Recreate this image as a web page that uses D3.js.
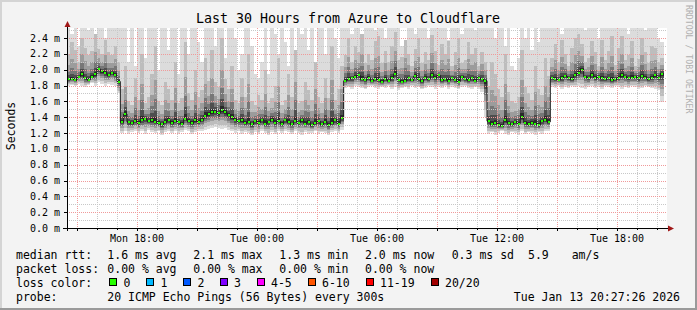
<!DOCTYPE html>
<html lang="en">
<head>
<meta charset="UTF-8">
<title>Last 30 Hours from Azure to Cloudflare</title>
<script src="https://cdn.jsdelivr.net/npm/d3@7"></script>
<style>
body{margin:0;background:#f3f3f3}
svg text{font-family:"DejaVu Sans Mono",monospace;fill:#000}
</style>
</head>
<body>
<div id="grafica"></div>
<script>
// smokeping values, ms, one value per 10 minutes from Mon 14:30
start='2026-01-12T14:30:00Z'
end='2026-01-13T20:30:00Z'
stepMin=10

median=[1.88,1.88,1.87,1.91,1.94,1.89,1.87,1.91,1.94,2.01,1.98,1.96,1.93,1.96,1.93,1.85,
1.34,1.44,1.34,1.33,1.35,1.33,1.36,1.38,1.35,1.36,
1.34,1.33,1.31,1.34,1.36,1.33,1.35,1.34,1.32,1.38,
1.35,1.33,1.36,1.34,1.37,1.42,1.44,1.46,1.47,1.45,
1.49,1.46,1.43,1.40,1.37,1.35,1.36,1.33,1.34,1.31,
1.35,1.33,1.36,1.32,1.34,1.37,1.33,1.35,1.32,1.36,
1.34,1.31,1.35,1.33,1.36,1.32,1.34,1.30,1.33,1.35,
1.31,1.34,1.30,1.33,1.36,1.32,1.39,
1.86,1.88,1.89,1.91,1.93,1.88,1.87,1.90,1.86,1.88,
1.87,1.85,1.88,1.86,1.89,1.95,1.87,1.85,1.86,1.89,
1.87,1.92,1.88,1.86,1.90,1.88,1.93,1.90,1.93,1.87,
1.88,1.86,1.89,1.87,1.85,1.91,1.88,1.87,1.89,1.86,
1.90,1.88,1.86,
1.35,1.31,1.33,1.30,1.29,1.36,1.33,1.31,1.34,1.32,
1.40,1.33,1.31,1.33,1.32,1.30,1.35,1.37,1.34,
1.89,1.88,1.87,1.89,1.92,1.90,1.88,1.93,1.96,2.00,
1.91,1.89,1.93,1.90,1.91,1.89,1.88,1.89,1.87,1.88,
1.90,1.93,1.91,1.89,1.90,1.91,1.89,1.92,1.90,1.88,
1.89,1.93,1.90,1.95]

// fastest ping of each step
lo=[1.80,1.81,1.79,1.82,1.80,1.78,1.81,1.83,1.80,1.84,1.82,1.80,1.82,1.81,1.80,1.70,
1.20,1.22,1.19,1.21,1.23,1.20,1.22,1.19,1.24,1.21,
1.20,1.22,1.18,1.21,1.23,1.20,1.22,1.19,1.21,1.24,
1.22,1.19,1.21,1.23,1.22,1.24,1.25,1.26,1.27,1.26,
1.25,1.26,1.24,1.22,1.20,1.22,1.19,1.21,1.20,1.18,
1.21,1.19,1.22,1.20,1.17,1.21,1.19,1.22,1.20,1.23,
1.21,1.19,1.22,1.20,1.18,1.21,1.19,1.20,1.22,1.19,
1.21,1.20,1.18,1.21,1.22,1.20,1.24,
1.77,1.78,1.76,1.79,1.78,1.77,1.75,1.78,1.79,1.77,
1.76,1.78,1.77,1.79,1.76,1.78,1.74,1.77,1.78,1.76,
1.79,1.77,1.78,1.75,1.77,1.79,1.78,1.76,1.78,1.77,
1.79,1.76,1.78,1.77,1.75,1.78,1.79,1.77,1.76,1.78,
1.75,1.72,1.40,
1.19,1.21,1.18,1.20,1.22,1.19,1.17,1.21,1.20,1.18,
1.22,1.19,1.21,1.20,1.18,1.21,1.19,1.22,1.23,
1.78,1.77,1.79,1.76,1.78,1.77,1.79,1.78,1.80,1.77,
1.76,1.78,1.79,1.77,1.78,1.76,1.79,1.78,1.77,1.79,
1.78,1.76,1.78,1.77,1.79,1.78,1.76,1.77,1.79,1.78,
1.77,1.76,1.74,1.59]

// upper edge of the dense part of the smoke
up=[2.20,2.35,2.25,2.10,2.40,2.28,2.18,2.24,2.45,2.26,2.20,2.38,2.22,2.18,2.30,2.10,
1.75,2.05,1.60,1.55,1.90,1.62,2.20,1.58,1.66,1.95,
2.30,1.60,1.55,1.85,1.75,1.62,2.10,1.58,1.64,2.35,
1.70,1.62,2.00,1.66,1.74,2.15,1.86,2.25,1.84,1.78,
2.40,1.88,1.75,2.05,1.62,1.58,1.90,1.66,2.20,1.60,
1.55,1.68,1.62,2.00,1.58,1.64,1.80,2.15,1.56,1.62,
1.95,1.66,2.25,1.58,1.60,1.85,1.74,1.62,2.10,1.66,
1.58,1.90,1.64,2.30,1.62,1.75,2.05,
2.18,2.40,2.10,2.30,2.22,2.45,2.08,2.20,2.12,2.36,
2.42,2.08,2.24,2.10,2.30,2.48,2.12,2.16,2.38,2.20,
2.05,2.26,2.40,2.08,2.22,2.12,2.44,2.24,2.06,2.32,
2.20,2.36,2.05,2.22,2.40,2.08,2.12,2.35,2.20,2.28,
2.05,2.22,2.10,
1.80,2.10,1.95,1.75,1.65,2.20,1.72,1.60,1.58,1.66,
2.25,1.78,1.70,1.62,2.05,1.75,1.68,2.15,1.92,
2.15,2.32,2.10,2.38,2.20,2.05,2.28,2.40,2.45,2.32,
2.10,2.15,2.36,2.22,2.05,2.38,2.12,2.24,2.42,2.06,
2.28,2.42,2.12,2.18,2.36,2.05,2.14,2.40,2.22,2.08,
2.30,2.28,2.10,2.15]

// slowest ping of each step (above 2.52 is cut off by the graph)
hi=[2.60,2.45,2.60,2.30,2.60,2.60,2.50,2.60,2.35,2.60,2.60,2.40,2.60,2.60,2.55,2.60,
2.60,2.60,2.10,2.60,2.05,2.60,2.60,2.15,2.60,2.60,
2.60,2.00,2.60,2.60,2.25,2.60,2.60,1.95,2.60,2.60,
2.20,2.60,2.60,2.35,2.10,2.60,2.60,2.60,2.30,2.60,
2.60,2.15,2.60,2.60,2.40,2.00,2.20,2.60,2.60,2.30,
1.95,1.90,2.10,2.60,1.95,2.60,2.45,2.20,2.60,2.35,
2.05,2.60,2.20,2.60,2.45,2.60,2.25,2.60,2.10,2.60,
2.60,2.20,2.60,2.60,2.40,2.15,2.60,
2.60,2.60,2.45,2.60,2.60,2.35,2.60,2.60,2.60,2.50,
2.60,2.60,2.40,2.60,2.60,2.60,2.60,2.30,2.35,2.60,
2.60,2.45,2.60,2.60,2.60,2.40,2.60,2.60,2.55,2.60,
2.60,2.38,2.60,2.60,2.60,2.45,2.60,2.60,2.60,2.50,
2.60,2.60,2.60,
2.60,2.60,2.40,2.60,2.60,2.30,2.60,2.05,2.00,2.15,
2.60,2.40,2.60,2.25,2.60,2.35,2.60,2.60,2.60,
2.60,2.60,2.60,2.45,2.60,2.60,2.60,2.60,2.60,2.60,
2.50,2.60,2.60,2.60,2.40,2.60,2.60,2.60,2.55,2.60,
2.60,2.60,2.60,2.45,2.60,2.60,2.60,2.60,2.50,2.60,
2.60,2.60,2.40,2.35]

yTicks=[0,0.2,0.4,0.6,0.8,1.0,1.2,1.4,1.6,1.8,2.0,2.2,2.4]
xTicks=['2026-01-12T18:00:00Z','2026-01-13T00:00:00Z','2026-01-13T06:00:00Z','2026-01-13T12:00:00Z','2026-01-13T18:00:00Z']
xTickLabels=['Mon 18:00','Tue 00:00','Tue 06:00','Tue 12:00','Tue 18:00']

rttLabel='median rtt:'
rttStats=['1.6 ms avg','2.1 ms max','1.3 ms min','2.0 ms now','0.3 ms sd','5.9','am/s']
lossLabel='packet loss:'
lossStats=['0.00 % avg','0.00 % max','0.00 % min','0.00 % now']
lossColorLabel='loss color:'
lossBins=['0','1','2','3','4-5','6-10','11-19','20/20']
lossColors=['#26ff00','#00b8ff','#0059ff','#7e00ff','#ff00ff','#ff5500','#ff0000','#a10000']
probeLabel='probe:'
probeText='20 ICMP Echo Pings (56 Bytes) every 300s'
stamp='Tue Jan 13 20:27:26 2026'

// ---- drawing
W=697; H=310
L=67; R=667; T=28; B=228
svg=d3.select('#grafica').append('svg').attr('width',W).attr('height',H)

svg.append('rect').attr('width',W).attr('height',H).attr('fill','#f3f3f3')
svg.append('rect').attr('width',W).attr('height',2).attr('fill','#d4d4d4')
svg.append('rect').attr('width',2).attr('height',H).attr('fill','#d4d4d4')
svg.append('rect').attr('y',H-2).attr('width',W).attr('height',2).attr('fill','#9a9a9a')
svg.append('rect').attr('x',W-2).attr('width',2).attr('height',H).attr('fill','#9a9a9a')

svg.append('rect').attr('x',L).attr('y',T).attr('width',R-L).attr('height',B-T).attr('fill','#fff')

x=d3.scaleUtc().domain([new Date(start),new Date(end)]).range([L,R])
y=d3.scaleLinear().domain([0,2.4]).range([B,38])

svg.append('clipPath').attr('id','plot').append('rect')
	.attr('x',L).attr('y',T).attr('width',R-L).attr('height',B-T)
g=svg.append('g').attr('clip-path','url(#plot)')

N=median.length
t0=new Date(start).getTime()
function tm(i){return new Date(t0+i*stepMin*60000)}
pts=d3.range(N+1).map(function(i){return {t:tm(i),i:Math.min(i,N-1)}})

// smoke: light outside, dark near the median
layers=[
	['#dcdcdc',1,null],
	['#bdbdbd',0.8,1],
	['#9c9c9c',0.55,0.55],
	['#777777',0.38,0.3],
	['#4e4e4e',0.22,0.15],
	['#2a2a2a',0.1,0.06]
]
layers.forEach(function(l){
	area=d3.area().curve(d3.curveStepAfter)
		.x(function(d){return x(d.t)})
		.y0(function(d){var m=median[d.i];return y(m-l[1]*(m-lo[d.i]))})
		.y1(function(d){var m=median[d.i];return l[2]==null?y(hi[d.i]):y(m+l[2]*(up[d.i]-m))})
	g.append('path').datum(pts).attr('d',area).attr('fill',l[0]).attr('shape-rendering','crispEdges')
})

// grid
grid=svg.append('g').attr('shape-rendering','crispEdges').attr('fill','none')
hours=d3.utcHour.range(new Date(start),new Date(end))
hours.forEach(function(h){
	var major=h.getUTCHours()%3==0
	grid.append('line').attr('x1',Math.round(x(h))+0.5).attr('x2',Math.round(x(h))+0.5)
		.attr('y1',T).attr('y2',B)
		.attr('stroke',major?'#f09a9a':'#c8c8c8').attr('stroke-dasharray','1,1')
})
d3.range(1,26).forEach(function(k){
	var v=k/10, yy=Math.round(y(v))+0.5
	if(yy<T) return
	grid.append('line').attr('x1',L).attr('x2',R).attr('y1',yy).attr('y2',yy)
		.attr('stroke',k%2==0?'#f09a9a':'#c8c8c8').attr('stroke-dasharray','1,1')
})

// median
line=d3.line().curve(d3.curveStepAfter).x(function(d){return x(d.t)}).y(function(d){return y(median[d.i])})
g.append('path').datum(pts).attr('d',line).attr('fill','none').attr('stroke','#1e1e1e').attr('stroke-width',1)
g.selectAll('rect.med').data(median).enter().append('rect').attr('class','med')
	.attr('x',function(d,i){return Math.round((x(tm(i))+x(tm(i+1)))/2-1)})
	.attr('y',function(d){return Math.round(y(d))-1})
	.attr('width',2).attr('height',2)
	.attr('fill',lossColors[0]).attr('shape-rendering','crispEdges')

// axes
ax=svg.append('g').attr('shape-rendering','crispEdges')
ax.append('line').attr('x1',63).attr('x2',669).attr('y1',B+0.5).attr('y2',B+0.5).attr('stroke','#000')
ax.append('line').attr('x1',L+0.5).attr('x2',L+0.5).attr('y1',B+3).attr('y2',T-2).attr('stroke','#000')
hours.forEach(function(h){
	var xx=Math.round(x(h))+0.5
	ax.append('line').attr('x1',xx).attr('x2',xx).attr('y1',B+1).attr('y2',B+(h.getUTCHours()%3==0?3:2)).attr('stroke','#000')
})
yTicks.forEach(function(v){
	var yy=Math.round(y(v))+0.5
	ax.append('line').attr('x1',L-3).attr('x2',L).attr('y1',yy).attr('y2',yy).attr('stroke','#000')
})
svg.append('path').attr('d','M668,225.5L674,228.5L668,231.5Z').attr('fill','#a01818')
svg.append('path').attr('d','M64.5,27L67.5,21L70.5,27Z').attr('fill','#a01818')

svg.selectAll('text.yl').data(yTicks).enter().append('text').attr('class','yl')
	.attr('x',60).attr('y',function(d){return y(d)+3.5})
	.attr('text-anchor','end').style('font-size','10px')
	.text(function(d){return d3.format('.1f')(d)+' m'})
svg.selectAll('text.xl').data(xTicks).enter().append('text').attr('class','xl')
	.attr('x',function(d){return x(new Date(d))}).attr('y',241.5)
	.attr('text-anchor','middle').style('font-size','10px')
	.text(function(d,i){return xTickLabels[i]})

// titles
svg.append('text').attr('x',348).attr('y',23).attr('text-anchor','middle')
	.style('font-size','13.3px').text('Last 30 Hours from Azure to Cloudflare')
svg.append('text').attr('transform','translate(14.5,126) rotate(-90)').attr('text-anchor','middle')
	.style('font-size','11.5px').text('Seconds')
svg.append('text').attr('transform','translate(685.5,5) rotate(90)')
	.style('font-size','8.2px').style('fill','#b0b0b0').text('RRDTOOL / TOBI OETIKER')

// legend
leg=svg.append('g').style('font-size','11.5px')
function txt(s,xx,yy){leg.append('text').attr('x',xx).attr('y',yy).attr('xml:space','preserve').text(s)}
txt(rttLabel,16,258.5)
rttX=[107.3,193.3,279.3,365,451.7,528,571.7]
rttStats.forEach(function(s,i){txt(s,rttX[i],258.5)})
txt(lossLabel,16,272.5)
lossX=[107.3,193.3,279.3,365]
lossStats.forEach(function(s,i){txt(s,lossX[i],272.5)})
txt(lossColorLabel,16,286.5)
boxX=[109,146,183,219.5,256.5,307.5,365.5,430.5]
lossBins.forEach(function(s,i){
	leg.append('rect').attr('x',boxX[i]+0.5).attr('y',278.5).attr('width',7).attr('height',7)
		.attr('fill',lossColors[i]).attr('stroke','#000').attr('shape-rendering','crispEdges')
	txt(s,boxX[i]+14.5,286.5)
})
txt(probeLabel,16,300.5)
txt(probeText,107.3,300.5)
leg.append('text').attr('x',680).attr('y',300.5).attr('text-anchor','end').text(stamp)
</script>
</body>
</html>
